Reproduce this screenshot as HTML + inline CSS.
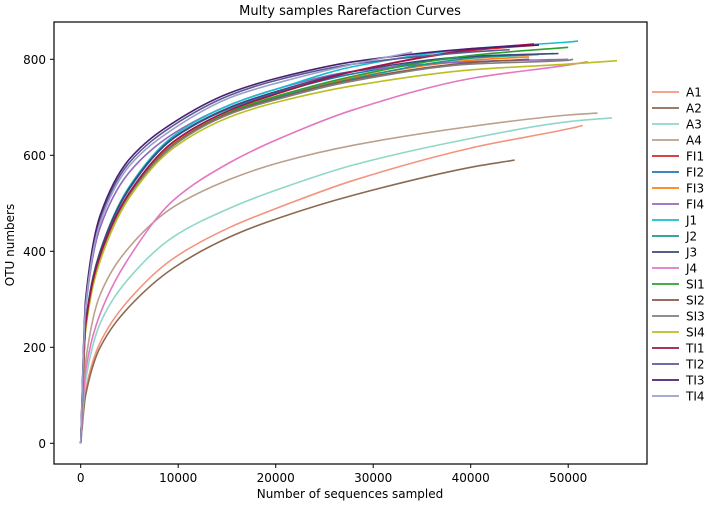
<!DOCTYPE html>
<html><head><meta charset="utf-8"><style>
body{margin:0;background:#fff;}
svg{display:block;font-family:"DejaVu Sans","Liberation Sans",sans-serif;}
</style></head><body>
<svg id="chart" width="708" height="506" viewBox="0 0 708 506">
<text x="350" y="15" font-size="13" text-anchor="middle">Multy samples Rarefaction Curves</text>
<g id="plot"></g>
<rect x="54" y="22" width="593" height="442" fill="none" stroke="#000" stroke-width="1.2"/>
<g id="axes"></g>
<text x="350" y="498" font-size="12" text-anchor="middle">Number of sequences sampled</text>
<text x="14" y="245" font-size="12" text-anchor="middle" transform="rotate(-90 14 245)">OTU numbers</text>
<g id="legend"></g>
</svg>
<script>
const names=["A1","A2","A3","A4","FI1","FI2","FI3","FI4","J1","J2","J3","J4","SI1","SI2","SI3","SI4","TI1","TI2","TI3","TI4"];
const colors=["#f4947e","#8c6a50","#8fd8c8","#bba08e","#d62728","#1f77b4","#ff7f0e","#9467bd","#17becf","#1a9a8a","#3b4a7a","#e377c2","#2ca02c","#8c564b","#7f7f7f","#bcbd22","#a0144a","#5a5a9a","#4b1f6f","#9aa0c8"];
const stdX=[0,500,2000,5000,9500,15300,20400,28000,40000,50000];
const endX=[51500,44500,54500,53000,47000,48500,46000,50000,51000,47000,49000,52000,50000,46000,50500,55000,46500,44000,47000,34000];
const values=[
[0,110,210,300,385,450,492,548,615,655,662],
[0,100,200,285,365,430,470,517,575,590],
[0,130,250,345,430,490,530,580,635,670,678],
[0,170,310,409,492,550,585,621,660,684,688],
[0,245,392,522,628,694,730,775,818,830],
[0,248,398,530,635,698,732,770,805,812],
[0,242,388,518,624,690,725,762,798,805],
[0,280,450,565,645,705,740,775,795,800],
[0,250,400,535,640,705,740,785,822,836,838],
[0,240,385,515,620,688,722,760,802,810],
[0,250,400,532,636,700,735,775,806,812],
[0,150,270,388,506,585,635,695,760,788,795],
[0,240,385,516,622,690,725,765,808,825],
[0,240,386,517,622,688,720,758,793,800],
[0,240,385,515,620,686,718,755,790,798,800],
[0,235,380,512,615,680,712,745,778,790,797],
[0,245,392,522,628,694,730,775,820,832],
[0,290,468,585,662,725,758,790,815,820],
[0,300,475,592,668,730,762,795,822,830],
[0,285,460,578,655,720,752,790,815]
];
const xTicks=[0,10000,20000,30000,40000,50000];
const yTicks=[0,200,400,600,800];
const sx=v=>80.7+v*0.00975;
const sy=v=>443.3-v*0.48;
const NS="http://www.w3.org/2000/svg";
function mk(t,a,p){const e=document.createElementNS(NS,t);for(const k in a)e.setAttribute(k,a[k]);p.appendChild(e);return e;}
const plot=document.getElementById('plot'),axes=document.getElementById('axes'),leg=document.getElementById('legend');
function pathFor(pts){
 let d="M"+pts[0][0].toFixed(1)+","+pts[0][1].toFixed(1);
 const n=pts.length,m=[];
 const dl=[];for(let i=0;i<n-1;i++)dl.push((pts[i+1][1]-pts[i][1])/(pts[i+1][0]-pts[i][0]));
 for(let i=0;i<n;i++){
  if(i===0)m.push(dl[0]);else if(i===n-1)m.push(dl[n-2]);
  else m.push(dl[i-1]*dl[i]<=0?0:2/(1/dl[i-1]+1/dl[i]));
 }
 for(let i=0;i<n-1;i++){
  const h=pts[i+1][0]-pts[i][0];
  const c1=[pts[i][0]+h/3,pts[i][1]+m[i]*h/3];
  const c2=[pts[i+1][0]-h/3,pts[i+1][1]-m[i+1]*h/3];
  d+="C"+c1.map(v=>v.toFixed(1))+" "+c2.map(v=>v.toFixed(1))+" "+pts[i+1][0].toFixed(1)+","+pts[i+1][1].toFixed(1);
 }
 return d;
}
names.forEach((n,i)=>{
 const vals=values[i];const pts=[];
 for(let j=0;j<vals.length;j++){
  const xv=(j<stdX.length&&stdX[j]<endX[i])?stdX[j]:endX[i];
  pts.push([sx(xv),sy(vals[j])]);
 }
 const p=mk('path',{d:pathFor(pts),fill:'none',stroke:colors[i],'stroke-width':1.6},plot);
 
 
 const ly=92+16*i;
 const g=mk('g',{},leg);
 
 
 mk('line',{x1:652,x2:679,y1:ly,y2:ly,stroke:colors[i],'stroke-width':1.8},g);
 const t=mk('text',{x:686,y:ly+4.5,'font-size':12},g);t.textContent=n;
});
xTicks.forEach(v=>{
 const g=mk('g',{},axes);
 
 
 mk('line',{x1:sx(v),x2:sx(v),y1:464,y2:468,stroke:'#000'},g);
 const t=mk('text',{x:sx(v),y:482,'font-size':12,'text-anchor':'middle'},g);t.textContent=v;
});
yTicks.forEach(v=>{
 const g=mk('g',{},axes);
 
 
 mk('line',{x1:50,x2:54,y1:sy(v),y2:sy(v),stroke:'#000'},g);
 const t=mk('text',{x:46,y:sy(v)+4.5,'font-size':12,'text-anchor':'end'},g);t.textContent=v;
});
</script>
</body></html>
